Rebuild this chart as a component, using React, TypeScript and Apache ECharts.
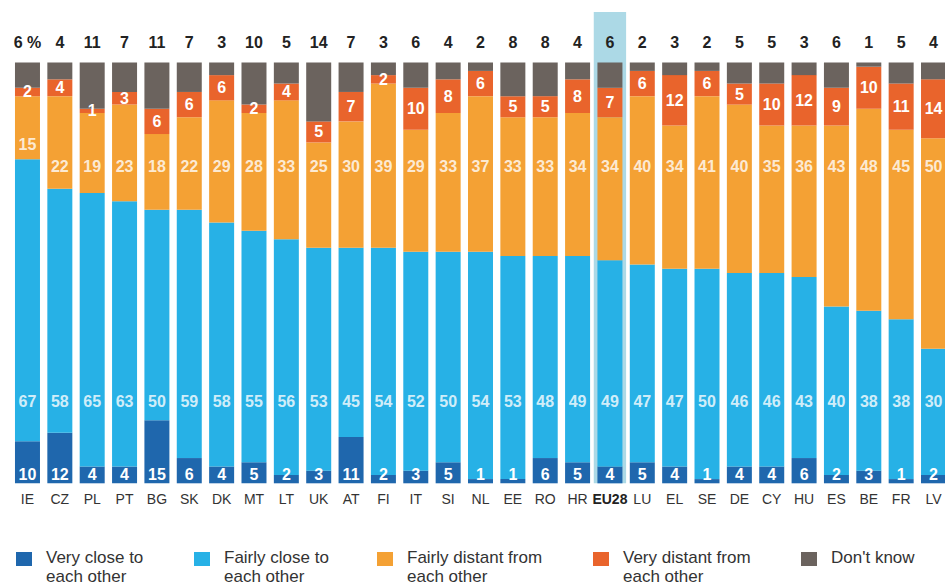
import React, { useEffect, useRef } from "react";
import * as echarts from "echarts";

const categories = ["IE","CZ","PL","PT","BG","SK","DK","MT","LT","UK","AT","FI","IT","SI","NL","EE","RO","HR","EU28","LU","EL","SE","DE","CY","HU","ES","BE","FR","LV"];
const veryClose = [10,12,4,4,15,6,4,5,2,3,11,2,3,5,1,1,6,5,4,5,4,1,4,4,6,2,3,1,2];
const fairlyClose = [67,58,65,63,50,59,58,55,56,53,45,54,52,50,54,53,48,49,49,47,47,50,46,46,43,40,38,38,30];
const fairlyDistant = [15,22,19,23,18,22,29,28,33,25,30,39,29,33,37,33,33,34,34,40,34,41,40,35,36,43,48,45,50];
const veryDistant = [2,4,1,3,6,6,6,2,4,5,7,2,10,8,6,5,5,8,7,6,12,6,5,10,12,9,10,11,14];
const dontKnow = [6,4,11,7,11,7,3,10,5,14,7,3,6,4,2,8,8,4,6,2,3,2,5,5,3,6,1,5,4];
const seriesNames = ["Very close to\neach other","Fairly close to\neach other","Fairly distant from\neach other","Very distant from\neach other","Don't know"];
const highlightCategory = "EU28";

const COLORS = ["#1f67ad", "#27b1e6", "#f4a134", "#e9642c", "#6b635e"];
const FONT = "'Liberation Sans', Arial, Helvetica, sans-serif";
const Y_MAX = 112;

export default function App() {
  const ref = useRef<HTMLDivElement>(null);
  useEffect(() => {
    if (!ref.current) return;
    const chart = echarts.init(ref.current, null, { renderer: "svg" });
    const whiteLabel = { color: "#fff", fontWeight: "bold" as const, fontSize: 16, fontFamily: FONT };

    const closeLabelData = fairlyClose.map((v, i) => ({ value: [i, 19.4], raw: v }));
    const distantLabelData = fairlyDistant.map((v, i) => {
      const start = veryClose[i] + fairlyClose[i];
      return { value: [i, Math.max(75.2, start + 3.4)], raw: v };
    });

    const legendX = [16, 194, 377, 593, 801];
    const graphics: any[] = [];
    seriesNames.forEach((n, i) => {
      graphics.push({ type: "rect", left: legendX[i], top: 552, shape: { width: 16, height: 14 }, style: { fill: COLORS[i] }, silent: true });
      graphics.push({
        type: "text", left: legendX[i] + 30, top: 548,
        style: { text: n, fill: "#333", fontSize: 17, fontFamily: FONT, lineHeight: 19 },
        silent: true,
      });
    });

    const labelScatter = (data: any[]) => ({
      type: "scatter", symbolSize: 1, itemStyle: { color: "transparent" }, silent: true, z: 5,
      data,
      label: { show: true, position: "inside", ...whiteLabel, formatter: (p: any) => String(p.data.raw) },
    });

    const option: any = {
      animation: false,
      backgroundColor: "#fff",
      grid: { left: 11.3, top: 12, width: 938.4, height: 471.3 },
      xAxis: [
        {
          type: "category", data: categories,
          axisLine: { show: false }, axisTick: { show: false },
          axisLabel: {
            color: "#333", fontSize: 14, fontFamily: FONT, margin: 9, interval: 0,
            formatter: (v: string) => (v === highlightCategory ? "{b|" + v + "}" : v),
            rich: { b: { fontWeight: "bold", fontSize: 14, color: "#222", fontFamily: FONT } },
          },
        },
        { type: "category", data: categories, show: false, gridIndex: 0 },
      ],
      yAxis: { type: "value", min: 0, max: Y_MAX, show: false, splitLine: { show: false } },
      graphic: graphics,
      series: [
        {
          type: "bar", xAxisIndex: 1, barWidth: "100%", silent: true, z: 1,
          data: categories.map((c) => (c === highlightCategory ? Y_MAX : null)),
          itemStyle: { color: "#acd9e6" },
        },
        {
          name: seriesNames[0], type: "bar", stack: "t", barWidth: 25, data: veryClose, z: 2,
          itemStyle: { color: COLORS[0] },
          label: { show: true, position: "insideBottom", distance: 1, ...whiteLabel },
        },
        {
          name: seriesNames[1], type: "bar", stack: "t", barWidth: 25, data: fairlyClose, z: 2,
          itemStyle: { color: COLORS[1] },
        },
        {
          name: seriesNames[2], type: "bar", stack: "t", barWidth: 25, data: fairlyDistant, z: 2,
          itemStyle: { color: COLORS[2] },
        },
        {
          name: seriesNames[3], type: "bar", stack: "t", barWidth: 25, data: veryDistant, z: 2,
          itemStyle: { color: COLORS[3] },
          label: { show: true, position: "inside", ...whiteLabel },
        },
        {
          name: seriesNames[4], type: "bar", stack: "t", barWidth: 25, data: dontKnow, z: 2,
          itemStyle: { color: COLORS[4] },
          label: {
            show: true, position: "top", distance: 12, color: "#222", fontWeight: "bold", fontSize: 16, fontFamily: FONT,
            formatter: (p: any) => (p.dataIndex === 0 ? p.value + " %" : String(p.value)),
          },
        },
        labelScatter(closeLabelData),
        labelScatter(distantLabelData),
      ],
    };
    chart.setOption(option);
    return () => chart.dispose();
  }, []);
  return <div ref={ref} style={{ position: "fixed", left: 0, top: 0, width: 960, height: 587 }} />;
}
